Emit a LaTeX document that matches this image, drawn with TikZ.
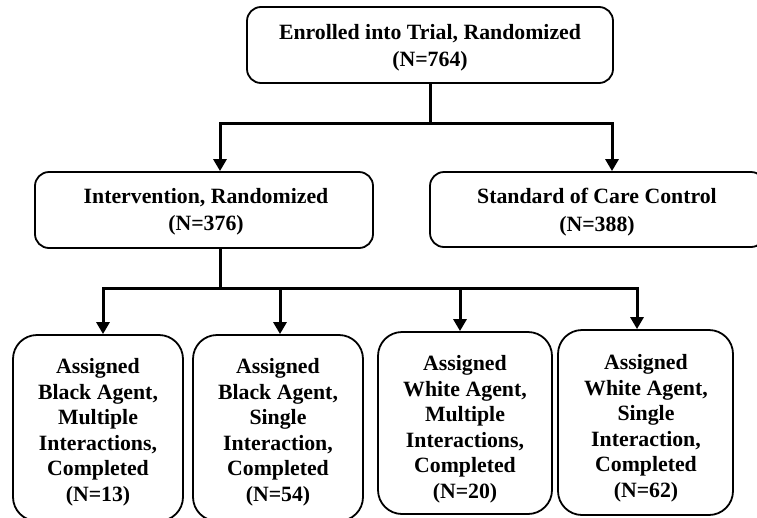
\documentclass[tikz,border=0pt]{standalone}
\usepackage{fontspec}
\setmainfont{Liberation Serif}
\usetikzlibrary{arrows.meta}
\begin{document}
\begin{tikzpicture}[x=1pt,y=-1pt,
 box/.style={draw, line width=1.8pt, rounded corners=14pt, inner sep=0pt},
 tbox/.style={box, minimum height=76pt},
 bbox/.style={box, rounded corners=24pt},
 txt/.style={align=center, font=\fontsize{21.8}{27.5}\selectfont\bfseries, inner sep=0pt},
 btxt/.style={align=center, font=\fontsize{21.8}{25.5}\selectfont\bfseries, inner sep=0pt},
 ln/.style={line width=3pt},
 arr/.style={line width=3pt, -{Triangle[width=13pt,length=12pt]}},
]
\useasboundingbox (0,0) rectangle (757,517);
\clip (0,0) rectangle (757,517);
\fill[white] (0,0) rectangle (757,517);

% boxes
\node[tbox, minimum width=366pt] (top) at (430,45) {};
\node[tbox, minimum width=338pt] (int) at (204,210) {};
\node[tbox, minimum width=335pt, minimum height=75pt] (std) at (597.5,209.5) {};
\node[bbox, minimum width=170pt, minimum height=186pt] (b1) at (98,428) {};
\node[bbox, minimum width=170pt, minimum height=186pt] (b2) at (278,428) {};
\node[bbox, minimum width=174pt, minimum height=182pt] (b3) at (465,423) {};
\node[bbox, minimum width=175pt, minimum height=185pt] (b4) at (645.5,422.5) {};

% texts
\node[txt] (toptext) at (430,48) {Enrolled into Trial, Randomized\\(N=764)};
\node[txt] (inttext) at (206,212) {Intervention, Randomized\\(N=376)};
\node[txt] (stdtext) at (597,212) {Standard of Care Control\\(N=388)};
\node[btxt] (b1text) at (98,432) {Assigned\\Black Agent,\\Multiple\\Interactions,\\Completed\\(N=13)};
\node[btxt] (b2text) at (278,432) {Assigned\\Black Agent,\\Single\\Interaction,\\Completed\\(N=54)};
\node[btxt] (b3text) at (465,429) {Assigned\\White Agent,\\Multiple\\Interactions,\\Completed\\(N=20)};
\node[btxt] (b4text) at (646,428) {Assigned\\White Agent,\\Single\\Interaction,\\Completed\\(N=62)};

% connectors
\coordinate (j1) at (430,123);
\coordinate (j2) at (220,288);
\draw[ln] (top.south) -- (j1);
\draw[arr] (j1) -| ([xshift=16pt]int.north);
\draw[arr] (j1) -| ([xshift=14.5pt]std.north);
\draw[ln] ([xshift=16pt]int.south) -- (j2);
\draw[arr] (j2) -| ([xshift=5pt]b1.north);
\draw[arr] (j2) -| ([xshift=2pt]b2.north);
\draw[arr] (j2) -| ([xshift=-5pt]b3.north);
\draw[arr] (j2) -| ([xshift=-8.5pt]b4.north);
\end{tikzpicture}
\end{document}
